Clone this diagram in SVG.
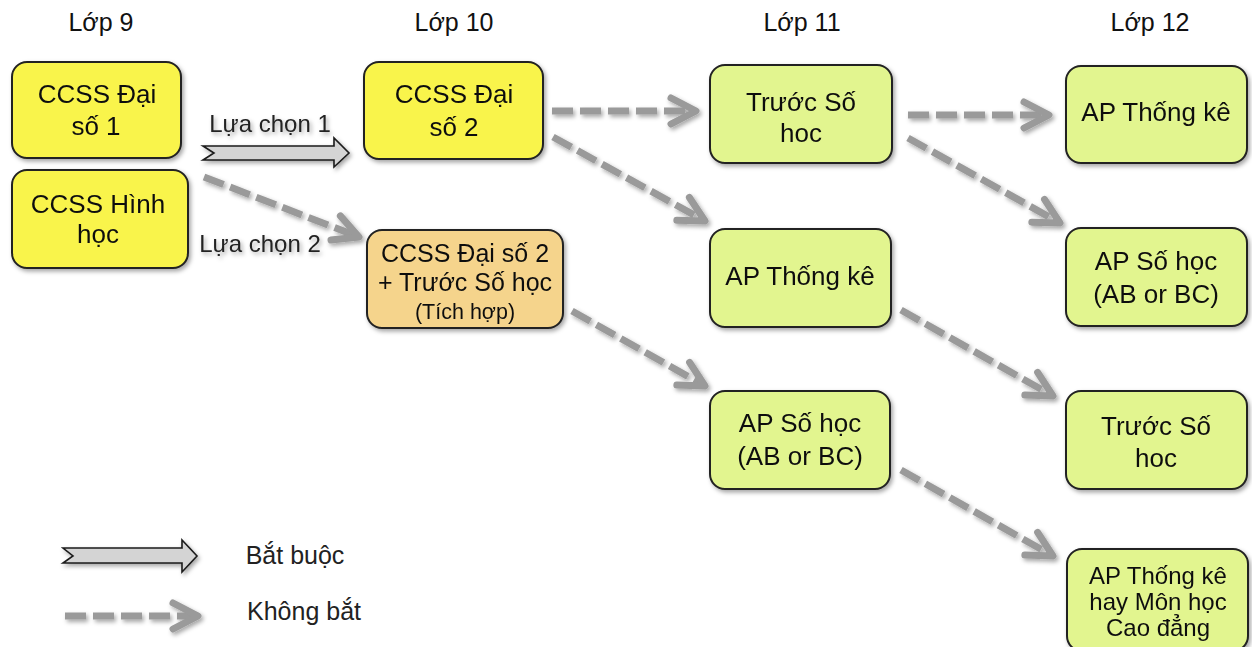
<svg xmlns="http://www.w3.org/2000/svg" width="1252" height="647" viewBox="0 0 1252 647">
<style>
text{font-family:"Liberation Sans",Arial,Helvetica,sans-serif;fill:#111;text-anchor:middle}
.hdr{font-size:25px}
.t{font-size:26px}
.lbl{font-size:24px;fill:#222}
.leg{font-size:25px;fill:#222}
.box{stroke:#222;stroke-width:2}
.yel{fill:#f9f44c}
.org{fill:#f5d48c}
.grn{fill:#e2f58f}
.dash{fill:none;stroke:#9a9a9a;stroke-width:7;stroke-dasharray:21 7}
.blk{fill:#d4d4d4;stroke:#1a1a1a;stroke-width:1.6;stroke-linejoin:miter}
</style>
<defs>
<filter id="sh" filterUnits="userSpaceOnUse" x="0" y="0" width="1252" height="647">
<feDropShadow dx="2" dy="2.5" stdDeviation="2" flood-color="#000" flood-opacity="0.35"/>
</filter>
<marker id="ah" markerUnits="userSpaceOnUse" orient="auto" refX="0" refY="0" markerWidth="40" markerHeight="40" overflow="visible">
<path d="M-25,-13 L0,0 L-25,13" fill="none" stroke="#9a9a9a" stroke-width="7" stroke-linecap="round" stroke-linejoin="round"/>
</marker>
</defs>
<rect width="1252" height="647" fill="#fff"/>

<g id="headers">
<text class="hdr" x="101" y="31">Lớp 9</text>
<text class="hdr" x="454" y="31">Lớp 10</text>
<text class="hdr" x="802" y="31">Lớp 11</text>
<text class="hdr" x="1150" y="31">Lớp 12</text>
</g>

<g id="connectors" filter="url(#sh)">
<path class="blk" d="M203,146 L334,146 L334,138 L349,153 L334,167 L334,160 L203,160 L214,153 Z"/>
<text class="lbl" x="270" y="132">Lựa chọn 1</text>
<line class="dash" x1="204" y1="177" x2="359" y2="237" marker-end="url(#ah)"/>
<text class="lbl" x="260" y="252">Lựa chọn 2</text>
<line class="dash" x1="552" y1="111" x2="696" y2="111" marker-end="url(#ah)"/>
<line class="dash" x1="553" y1="137" x2="705" y2="221" marker-end="url(#ah)"/>
<line class="dash" x1="572" y1="311" x2="705" y2="386" marker-end="url(#ah)"/>
<line class="dash" x1="908" y1="115" x2="1049" y2="115" marker-end="url(#ah)"/>
<line class="dash" x1="908" y1="138" x2="1060" y2="223" marker-end="url(#ah)"/>
<line class="dash" x1="901" y1="310" x2="1053" y2="396" marker-end="url(#ah)"/>
<line class="dash" x1="901" y1="470" x2="1053" y2="556" marker-end="url(#ah)"/>
</g>

<g id="n-ds1" filter="url(#sh)">
<rect class="box yel" x="12" y="62" width="169" height="96" rx="15"/>
<text class="t" x="97" y="103">CCSS Đại</text>
<text class="t" x="96" y="135">số 1</text>
</g>
<g id="n-hh" filter="url(#sh)">
<rect class="box yel" x="12" y="170" width="176" height="98" rx="15"/>
<text class="t" x="98" y="213">CCSS Hình</text>
<text class="t" x="98" y="243">học</text>
</g>
<g id="n-ds2" filter="url(#sh)">
<rect class="box yel" x="364" y="62" width="179" height="97" rx="15"/>
<text class="t" x="454" y="103">CCSS Đại</text>
<text class="t" x="454" y="136">số 2</text>
</g>
<g id="n-int" filter="url(#sh)">
<rect class="box org" x="367" y="230" width="196" height="98" rx="15"/>
<text x="465" y="262" style="font-size:25px">CCSS Đại số 2</text>
<text x="465" y="291" style="font-size:25px">+ Trước Số học</text>
<text x="465" y="319" style="font-size:21.5px">(Tích hợp)</text>
</g>
<g id="n-tsh11" filter="url(#sh)">
<rect class="box grn" x="710" y="65" width="182" height="98" rx="15"/>
<text class="t" x="801" y="111">Trước Số</text>
<text class="t" x="801" y="142">hoc</text>
</g>
<g id="n-tk11" filter="url(#sh)">
<rect class="box grn" x="710" y="229" width="181" height="98" rx="15"/>
<text class="t" x="800" y="285">AP Thống kê</text>
</g>
<g id="n-sh11" filter="url(#sh)">
<rect class="box grn" x="710" y="391" width="180" height="98" rx="15"/>
<text class="t" x="800" y="432">AP Số học</text>
<text class="t" x="800" y="465">(AB or BC)</text>
</g>
<g id="n-tk12" filter="url(#sh)">
<rect class="box grn" x="1066" y="66" width="181" height="97" rx="15"/>
<text class="t" x="1156" y="121">AP Thống kê</text>
</g>
<g id="n-sh12" filter="url(#sh)">
<rect class="box grn" x="1066" y="228" width="181" height="98" rx="15"/>
<text class="t" x="1156" y="270">AP Số học</text>
<text class="t" x="1156" y="303">(AB or BC)</text>
</g>
<g id="n-tsh12" filter="url(#sh)">
<rect class="box grn" x="1066" y="391" width="181" height="98" rx="15"/>
<text class="t" x="1156" y="435">Trước Số</text>
<text class="t" x="1156" y="467">hoc</text>
</g>
<g id="n-cd12" filter="url(#sh)">
<rect class="box grn" x="1067" y="549" width="181" height="102" rx="15"/>
<text x="1158" y="584" style="font-size:24px">AP Thống kê</text>
<text x="1158" y="610" style="font-size:24px">hay Môn học</text>
<text x="1158" y="636" style="font-size:24px">Cao đẳng</text>
</g>

<g id="legend">
<path class="blk" filter="url(#sh)" d="M63,548 L182,548 L182,540 L197,556 L182,572 L182,563 L63,563 L73,556 Z"/>
<text class="leg" x="295" y="564">Bắt buộc</text>
<g filter="url(#sh)">
<line class="dash" x1="65" y1="616" x2="198" y2="616" marker-end="url(#ah)"/>
</g>
<text class="leg" x="304" y="620">Không bắt</text>
</g>
</svg>
